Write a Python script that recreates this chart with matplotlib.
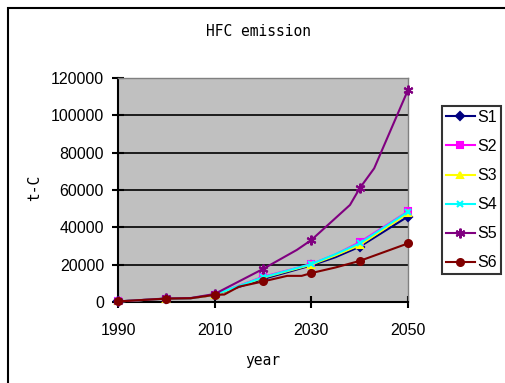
import matplotlib
matplotlib.use('Agg')
import matplotlib.pyplot as plt
from matplotlib.patches import Rectangle

# Datos
years_a = [1990, 2000, 2005, 2010, 2020, 2030, 2035, 2040, 2050]
s1 = [300, 1800, 2000, 3800, 12300, 19600, 24000, 29600, 45800]
s2 = [300, 1800, 2000, 3900, 13500, 20300, 25500, 32000, 48500]
s3 = [300, 1800, 2000, 3800, 13000, 20000, 25000, 30500, 47500]
s4 = [300, 1800, 2000, 4000, 13200, 20300, 25600, 31400, 48300]

years_s5 = [1990, 2000, 2005, 2010, 2020, 2027, 2030, 2038, 2040, 2043, 2050]
s5 = [300, 1900, 2100, 4300, 17700, 27900, 33200, 52000, 60900, 71600, 113600]

years_s6 = [1990, 2000, 2005, 2010, 2012, 2015, 2020, 2025, 2028, 2030, 2035, 2040, 2050]
s6 = [300, 1800, 2000, 3800, 4000, 8200, 11000, 14000, 14000, 15500, 18500, 22000, 31400]

labels = ['S1', 'S2', 'S3', 'S4', 'S5', 'S6']
x_ticks = [1990, 2010, 2030, 2050]
y_ticks = [0, 20000, 40000, 60000, 80000, 100000, 120000]

W, H = 505, 383
fig = plt.figure(figsize=(W / 100, H / 100), dpi=100)
fig.patch.set_facecolor('white')

ax = fig.add_axes([118 / W, 1 - 302 / H, 290 / W, 224 / H])
ax.set_facecolor('#C0C0C0')

series = [
    (years_a, s1, '#000080', 'D', 4),
    (years_a, s2, '#FF00FF', 's', 4),
    (years_a, s3, '#FFFF00', '^', 5),
    (years_a, s4, '#00FFFF', 'x', 5),
    (years_s5, s5, '#800080', (6, 2, 0), 7),
    (years_s6, s6, '#800000', 'o', 5),
]
for (xs, ys, c, m, ms), lab in zip(series, labels):
    mask = [y % 10 == 0 for y in xs]
    ax.plot(xs, ys, color=c, lw=1.5, marker=m, markersize=ms,
            markevery=mask, markeredgewidth=1.5, label=lab, clip_on=False,
            zorder=3)

ax.set_xlim(1990, 2050)
ax.set_ylim(0, 120000)
ax.set_xticks(x_ticks)
ax.set_yticks(y_ticks)
ax.yaxis.grid(True, color='black', lw=1.2)
ax.set_axisbelow(True)

for s in ['top', 'right']:
    ax.spines[s].set_color('#808080')
    ax.spines[s].set_linewidth(1.0)
for s in ['left', 'bottom']:
    ax.spines[s].set_color('black')
    ax.spines[s].set_linewidth(1.5)

ax.tick_params(axis='both', direction='inout', length=8, width=1.5,
               labelsize=11.5)
ax.tick_params(axis='y', pad=6)
ax.tick_params(axis='x', pad=11)
for t in ax.get_xticklabels() + ax.get_yticklabels():
    t.set_fontfamily('Liberation Sans')

mono = 'DejaVu Sans Mono'
fig.text(258 / W, 1 - 31 / H, 'HFC emission', ha='center', va='center',
         fontsize=10.5, family=mono)
fig.text(35 / W, 1 - 188 / H, 't-C', ha='center', va='center',
         rotation=90, fontsize=10.5, family=mono)
fig.text(263 / W, 1 - 360 / H, 'year', ha='center', va='center',
         fontsize=10.5, family=mono)

leg = fig.legend(loc='upper left', bbox_to_anchor=(442 / W, 1 - 106 / H),
                 frameon=True, fancybox=False, edgecolor='black',
                 prop={'family': 'Liberation Sans', 'size': 11.5},
                 handlelength=1.8, handletextpad=0.15, labelspacing=0.88,
                 borderpad=0.25, borderaxespad=0)
leg.get_frame().set_linewidth(1.5)

# Borde del area del grafico
fig.patches.append(Rectangle((8 / W, -0.2), 1.2, 1.2 - 8 / H,
                             transform=fig.transFigure, fill=False,
                             edgecolor='black', lw=1.5, clip_on=False))

plt.savefig('out.png', dpi=100)
plt.close()
